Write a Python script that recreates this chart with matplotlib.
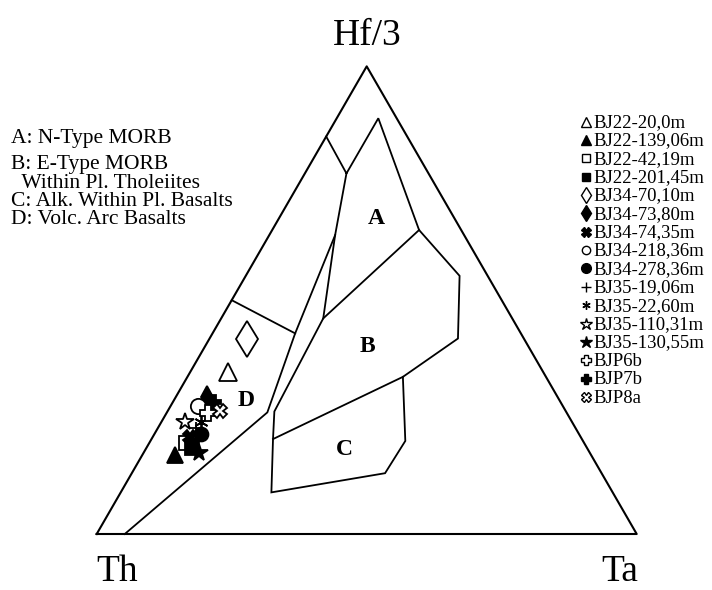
import numpy as np
import matplotlib
matplotlib.use("Agg")
import matplotlib.pyplot as plt

plt.rcParams['font.family'] = ['Liberation Serif', 'DejaVu Serif']

#=============================================================================#
## field boundaries of the Th - Hf/3 - Ta diagram, in % (Th, Hf/3, Ta)
outer_field = [
    (15.0, 85.0, 0.0),     # on the Th - Hf/3 side
    (15.2, 77.1, 7.7),
    (3.4, 88.9, 7.7),      # top of field A
    (7.8, 65.0, 27.2),
    (5.2, 55.2, 39.6),
    (12.2, 41.8, 46.0),
    (26.5, 33.6, 39.9),
    (32.9, 19.9, 47.2),
    (40.1, 13.0, 46.9),
    (63.2, 8.9, 27.9),
    (57.2, 20.3, 22.5),
    (54.0, 26.2, 19.8),
    (35.0, 46.1, 18.9),
    (23.9, 63.9, 12.2),
    (15.2, 77.1, 7.7),
]
ab_line = [(35.0, 46.1, 18.9), (7.8, 65.0, 27.2)]
bc_line = [(57.2, 20.3, 22.5), (26.5, 33.6, 39.9)]
d_line = [(23.9, 63.9, 12.2), (41.8, 42.9, 15.3), (55.4, 26.0, 18.6), (94.8, 0.0, 5.2)]
d_top = [(50.0, 50.0, 0.0), (41.8, 42.9, 15.3)]

field_names = ['A', 'B', 'C', 'D']
field_pos = [(14.4, 67.5, 18.1), (29.9, 40.0, 30.1), (45.1, 18.0, 36.9), (58.1, 28.5, 13.4)]
field_notes = ['A: N-Type MORB', 'B: E-Type MORB', '  Within Pl. Tholeiites',
               'C: Alk. Within Pl. Basalts', 'D: Volc. Arc Basalts']

## samples (Th, Hf/3, Ta) in %
samples = ['BJ22-20,0m', 'BJ22-139,06m', 'BJ22-42,19m', 'BJ22-201,45m',
           'BJ34-70,10m', 'BJ34-73,80m', 'BJ34-74,35m', 'BJ34-218,36m',
           'BJ34-278,36m', 'BJ35-19,06m', 'BJ35-22,60m', 'BJ35-110,31m',
           'BJ35-130,55m', 'BJP6b', 'BJP7b', 'BJP8a']
Th = [58.3, 77.1, 73.8, 73.2, 51.4, 64.9, 72.3, 67.5, 70.1, 70.3, 68.7, 71.7, 72.3, 66.6, 64.2, 64.0]
Hf = [34.7, 16.9, 19.4, 18.3, 41.6, 29.2, 20.8, 27.5, 21.3, 22.7, 24.0, 24.0, 17.4, 25.9, 28.2, 26.3]
Ta = [7.0, 6.0, 6.8, 8.4, 7.0, 5.9, 6.9, 5.1, 8.6, 7.1, 7.3, 4.3, 10.2, 7.6, 7.6, 9.7]

# marker, filled?, size in the diagram, size in the key
styles = [('^', False, 13, 7), ('^', True, 12, 7), ('s', False, 10, 6), ('s', True, 10, 6),
          ('d', False, 18, 8), ('d', True, 11, 8), ('X', True, 10, 7), ('o', False, 11, 6),
          ('o', True, 10, 7), ('+', True, 9, 7), ((6, 2, 0), True, 10, 6), ('*', False, 13, 9),
          ('*', True, 13, 9), ('P', False, 11, 7), ('P', True, 10, 7), ('X', False, 10, 7)]

#=============================================================================#
def tern(th, hf, ta):
    s = th + hf + ta
    return (ta + hf / 2.0) / s, hf / s * np.sqrt(3) / 2.0

def tern_line(pts):
    xy = np.array([tern(*p) for p in pts])
    return xy[:, 0], xy[:, 1]

W, H = 712, 590
x0, y0, side = 96.7, 534.0, 540.0     # Th corner and side length, pixels

fig = plt.figure(figsize=(W / 100, H / 100), dpi=100)
ax = fig.add_axes([0, 0, 1, 1])
ax.set_xlim(-x0 / side, (W - x0) / side)
ax.set_ylim(-(H - y0) / side, y0 / side)
ax.axis('off')

lw = 1.3
ax.plot(*tern_line([(100, 0, 0), (0, 0, 100), (0, 100, 0), (100, 0, 0)]), color='k', lw=lw + 0.2)
for line in [outer_field, ab_line, bc_line, d_line, d_top]:
    ax.plot(*tern_line(line), color='k', lw=lw, solid_joinstyle='miter')

for name, p in zip(field_names, field_pos):
    ax.text(*tern(*p), name, fontsize=17, fontweight='bold', ha='center', va='center')

for i in range(len(samples)):
    m, filled, ms, _ = styles[i]
    ax.plot(*tern(Th[i], Hf[i], Ta[i]), linestyle='none', marker=m, markersize=ms,
            markerfacecolor='k' if filled else 'white', markeredgecolor='k',
            markeredgewidth=1.3, zorder=3)

## corner labels
def px(x, y):
    return x / W, 1 - y / H

fig.text(*px(367, 36), 'Hf/3', fontsize=27, ha='center', va='center')
fig.text(*px(96, 581), 'Th', fontsize=27, ha='left', va='baseline')
fig.text(*px(638, 581), 'Ta', fontsize=27, ha='right', va='baseline')

## field names on the left
note_y = [138, 165, 184, 202, 220]
for s, y in zip(field_notes, note_y):
    fig.text(*px(11, y), s, fontsize=15.5, ha='left', va='center')

## sample key on the right
key_y0, key_dy = 121.5, 18.37
for i, s in enumerate(samples):
    m, filled, _, ks = styles[i]
    y = key_y0 + i * key_dy
    ax.plot(*px(586, y), transform=fig.transFigure, linestyle='none', marker=m, markersize=ks,
            markerfacecolor='k' if filled else 'white', markeredgecolor='k',
            markeredgewidth=1.0, clip_on=False)
    fig.text(*px(593, y + 1), s, fontsize=13.5, ha='left', va='center')

fig.savefig('out.png', dpi=100)
